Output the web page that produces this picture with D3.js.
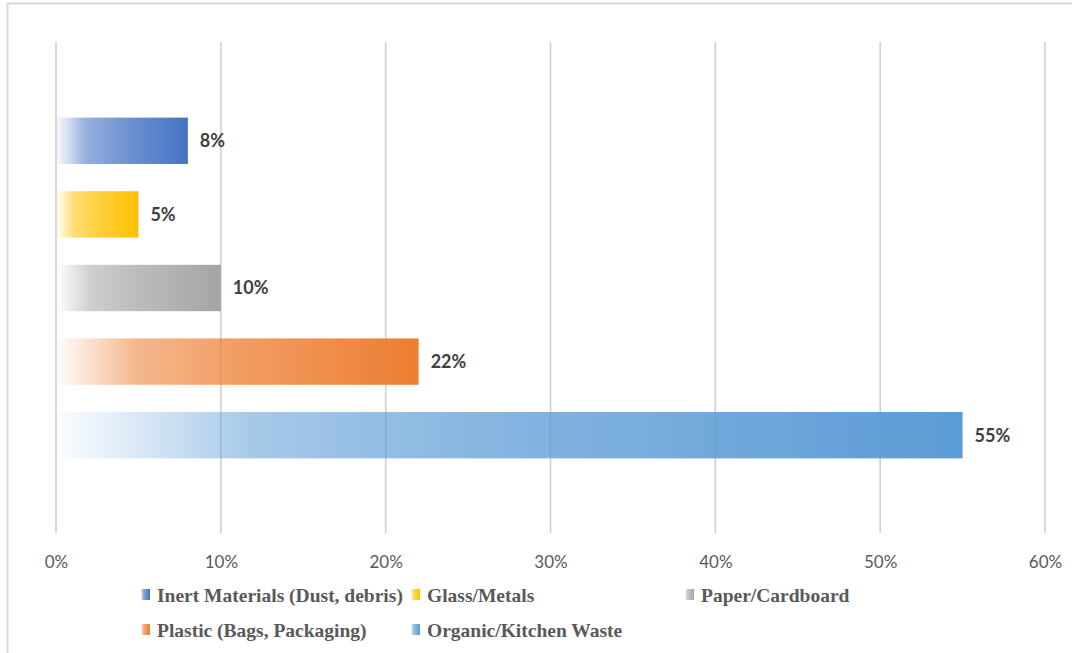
<!DOCTYPE html>
<html>
<head>
<meta charset="utf-8">
<script src="https://cdn.jsdelivr.net/npm/d3@7"></script>
<style>
  html, body { margin: 0; padding: 0; background: #fff; }
  svg { display: block; }
</style>
</head>
<body>
<svg id="chart" width="1072" height="653"></svg>
<script>
const categories = ["Inert Materials (Dust, debris)", "Glass/Metals", "Paper/Cardboard", "Plastic (Bags, Packaging)", "Organic/Kitchen Waste"];
const values = [0.08, 0.05, 0.10, 0.22, 0.55];
const colors = ["#4472C4", "#FFC000", "#A5A5A5", "#ED7D31", "#5B9BD5"];
const tickValues = [0, 0.1, 0.2, 0.3, 0.4, 0.5, 0.6];
const legendOrder = [0, 1, 2, 3, 4];

const svg = d3.select("#chart");
const defs = svg.append("defs");

// frame border (only top and left visible)
svg.append("path")
  .attr("d", "M7.5,653 L7.5,3.5 L1072,3.5")
  .attr("fill", "none").attr("stroke", "#d9d9d9").attr("stroke-width", 2);

const x = d3.scaleLinear().domain([0, 0.6]).range([56, 1045]);
const y = d3.scaleBand().domain(categories).range([104, 472]).paddingInner(0.37).paddingOuter(0.185);
const gridTop = 42, gridBottom = 533;

// gradients
const stops = [[0, 0.02], [0.1, 0.25], [0.22, 0.55], [0.5, 0.75], [1, 1]];
categories.forEach((c, i) => {
  const g = defs.append("linearGradient").attr("id", "grad" + i)
    .attr("x1", "0%").attr("x2", "100%").attr("y1", "0%").attr("y2", "0%");
  stops.forEach(s => g.append("stop").attr("offset", s[0]).attr("stop-color", colors[i]).attr("stop-opacity", s[1]));
});

// gridlines
svg.append("g").selectAll("line").data(tickValues).join("line")
  .attr("x1", d => x(d)).attr("x2", d => x(d))
  .attr("y1", gridTop).attr("y2", gridBottom)
  .attr("stroke", "#d0d0d0").attr("stroke-width", 1.6);

// bars
svg.append("g").selectAll("rect").data(categories).join("rect")
  .attr("x", x(0)).attr("y", d => y(d))
  .attr("width", (d, i) => x(values[i]) - x(0))
  .attr("height", y.bandwidth())
  .attr("fill", (d, i) => `url(#grad${i})`);

// data labels
svg.append("g").selectAll("text").data(categories).join("text")
  .attr("x", (d, i) => x(values[i]) + 12)
  .attr("y", d => y(d) + y.bandwidth() / 2)
  .attr("dy", "0.35em")
  .attr("font-family", "Lato, 'Open Sans', sans-serif")
  .attr("font-weight", "bold").attr("font-size", 18)
  .attr("fill", "#404040")
  .text((d, i) => Math.round(values[i] * 100) + "%");

// x axis tick labels
const axis = d3.axisBottom(x).tickValues(tickValues).tickFormat(d3.format(".0%")).tickSize(0).tickPadding(0);
const ax = svg.append("g").attr("transform", `translate(0,${556})`).call(axis);
ax.select(".domain").remove();
ax.selectAll("text")
  .attr("font-family", "Lato, 'Open Sans', sans-serif")
  .attr("font-size", 17).attr("fill", "#595959").attr("dy", "0.35em").attr("y", 6);

// legend
const legendPos = [[143, 595], [413, 595], [687, 595], [143, 630], [413, 630]];
const lg = svg.append("g");
legendOrder.forEach((idx, k) => {
  const [lx, ly] = legendPos[k];
  lg.append("rect").attr("x", lx - 2).attr("y", ly - 6).attr("width", 9).attr("height", 11)
    .attr("fill", `url(#grad${idx})`);
  lg.append("text").attr("x", lx + 14).attr("y", ly).attr("dy", "0.35em")
    .attr("font-family", "'Liberation Serif', 'Times New Roman', serif")
    .attr("font-weight", "bold").attr("font-size", 19.5).attr("fill", "#595959")
    .text(categories[idx]);
});
</script>
</body>
</html>
